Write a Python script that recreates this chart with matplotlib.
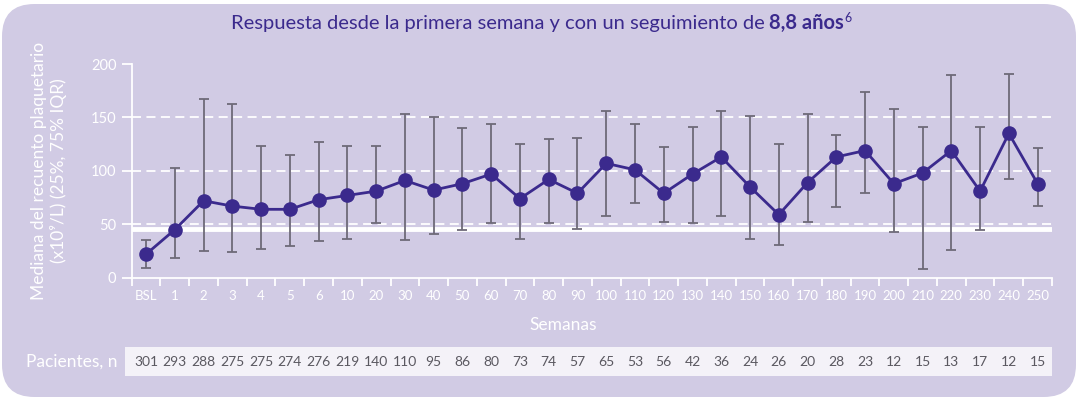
import numpy as np
import matplotlib.pyplot as plt
from matplotlib.patches import FancyBboxPatch, Rectangle
from matplotlib.transforms import blended_transform_factory

plt.rcParams['font.family'] = ['Lato', 'DejaVu Sans']

# data
semanas = ["BSL", "1", "2", "3", "4", "5", "6", "10", "20", "30", "40", "50", "60", "70",
           "80", "90", "100", "110", "120", "130", "140", "150", "160", "170", "180", "190",
           "200", "210", "220", "230", "240", "250"]
mediana = [22, 45, 72, 67, 64, 64, 73, 77, 81, 91, 82, 88, 97, 74, 92, 79, 107, 101, 79, 97,
           113, 85, 59, 89, 113, 119, 88, 98, 119, 81, 135, 88]
q25 = [9, 18, 25, 24, 27, 30, 34, 36, 51, 35, 41, 45, 51, 36, 51, 46, 58, 70, 52, 51,
       58, 36, 31, 52, 66, 79, 43, 8, 26, 45, 92, 67]
q75 = [35, 103, 167, 163, 123, 115, 127, 123, 123, 153, 150, 140, 144, 125, 130, 131, 156, 144, 122, 141,
       156, 151, 125, 153, 134, 174, 158, 141, 190, 141, 191, 121]
pacientes = [301, 293, 288, 275, 275, 274, 276, 219, 140, 110, 95, 86, 80, 73, 74, 57, 65, 53, 56, 42,
             36, 24, 26, 20, 28, 23, 12, 15, 13, 17, 12, 15]
referencias = [50, 100, 150]
umbral = 46

bg = "#d1cbe4"
morado = "#3b2a8d"
gris = "#6e6a78"

W, H = 1080, 399
fig = plt.figure(figsize=(W / 100, H / 100), dpi=100)
fig.patch.set_facecolor("white")
fig.patches.append(FancyBboxPatch((2 / W, 2 / H), 1 - 6 / W, 1 - 6 / H,
                                  boxstyle="round,pad=0,rounding_size=0.03",
                                  transform=fig.transFigure, facecolor=bg, edgecolor="none",
                                  mutation_aspect=W / H, zorder=-2))
# fila de pacientes (fondo)
fig.patches.append(Rectangle((125 / W, 1 - 376 / H), (1052 - 125) / W, 29 / H,
                             transform=fig.transFigure, facecolor="#f4f2f8",
                             edgecolor="none", zorder=-1))

x0, x1 = 131.7, 1052
y0, y1 = 277.7, 64
ax = fig.add_axes([x0 / W, 1 - y0 / H, (x1 - x0) / W, (y0 - y1) / H])
ax.set_facecolor("none")

x = np.arange(len(semanas))
med = np.array(mediana)
err = [med - np.array(q25), np.array(q75) - med]

for r in referencias:
    ax.axhline(r, color="white", lw=1.3, ls=(0, (5, 3)), zorder=1)
ax.axhline(umbral, color="white", lw=3.5, zorder=1)

ax.errorbar(x, med, yerr=err, fmt="none", ecolor=gris, elinewidth=1.3, capsize=3.5,
            capthick=1.3, zorder=2)
ax.plot(x, med, color=morado, lw=2, marker="o", ms=9.5, zorder=3)

ax.set_xlim(-0.5, len(semanas) - 0.5)
ax.set_ylim(0, 200)
ax.set_yticks([0, 50, 100, 150, 200])
ax.set_xticks(np.arange(len(semanas) + 1) - 0.5)
ax.set_xticklabels([])
ax.set_xticks(x, minor=True)
ax.set_xticklabels(semanas, minor=True)
ax.tick_params(axis="x", which="major", length=6, width=1.3, color="white")
ax.tick_params(axis="x", which="minor", length=0, pad=9, labelsize=9.5, labelcolor="white")
ax.tick_params(axis="y", length=7, width=1.3, color="white", labelsize=10.5,
               labelcolor="white", pad=4)
for s in ["top", "right"]:
    ax.spines[s].set_visible(False)
for s in ["left", "bottom"]:
    ax.spines[s].set_color("white")
    ax.spines[s].set_linewidth(1.3)

fig.text(49 / W, 1 - 171 / H, "Mediana del recuento plaquetario\n(x10⁹/L) (25%, 75% IQR)",
         rotation=90, ha="center", va="center", multialignment="center",
         color="white", fontsize=12.5, linespacing=1.15)
fig.text(563 / W, 1 - 325 / H, "Semanas", ha="center", va="center", color="white",
         fontsize=12.5)

fig.text(118 / W, 1 - 362 / H, "Pacientes, n", ha="right", va="center", color="white",
         fontsize=12.5)
trans = blended_transform_factory(ax.transData, fig.transFigure)
for xi, n in zip(x, pacientes):
    ax.text(xi, 1 - 362 / H, str(n), transform=trans, ha="center", va="center",
            color="#5a5860", fontsize=10, clip_on=False)

# titulo con parte en negrita
fig.canvas.draw()
r = fig.canvas.get_renderer()
t1 = fig.text(0, 0, "Respuesta desde la primera semana y con un seguimiento de ",
              color=morado, fontsize=14.5)
t2 = fig.text(0, 0, "8,8 años", color=morado, fontsize=14.5, fontweight="bold")
t3 = fig.text(0, 0, "6", color=morado, fontsize=9)
w1 = t1.get_window_extent(r).width
w2 = t2.get_window_extent(r).width
w3 = t3.get_window_extent(r).width
start = 541 - (w1 + w2 + w3) / 2
ty = 1 - 29 / H
t1.set_position((start / W, ty))
t2.set_position(((start + w1) / W, ty))
t3.set_position(((start + w1 + w2) / W, ty + 7 / H))

fig.savefig("out.png", dpi=100, facecolor=fig.get_facecolor())
